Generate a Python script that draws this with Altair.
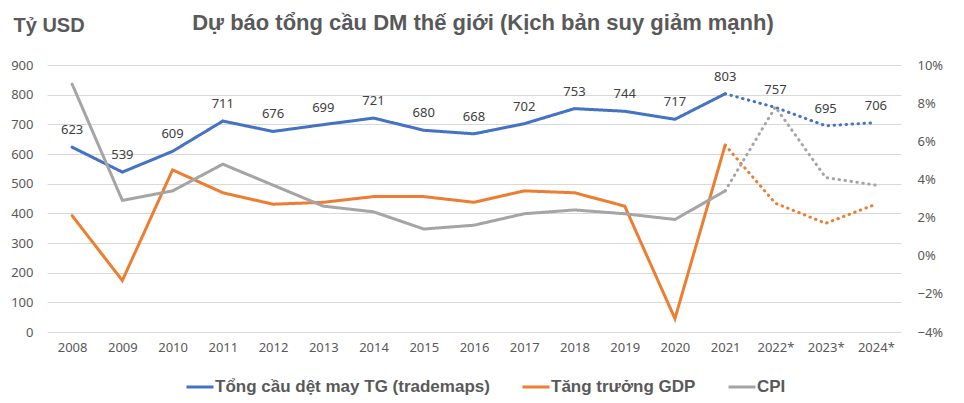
import altair as alt
import pandas as pd

years = ["2008", "2009", "2010", "2011", "2012", "2013", "2014", "2015", "2016",
         "2017", "2018", "2019", "2020", "2021", "2022*", "2023*", "2024*"]
demand = [623, 539, 609, 711, 676, 699, 721, 680, 668, 702, 753, 744, 717, 803, 757, 695, 706]
gdp_pct = [2.1, -1.3, 4.5, 3.3, 2.7, 2.8, 3.1, 3.1, 2.8, 3.4, 3.3, 2.6, -3.3, 5.8, 2.75, 1.7, 2.7]
cpi_pct = [9.0, 2.9, 3.4, 4.8, 3.7, 2.6, 2.3, 1.4, 1.6, 2.2, 2.4, 2.2, 1.9, 3.4, 7.8, 4.1, 3.7]

S_DEM = "Tổng cầu dệt may TG (trademaps)"
S_GDP = "Tăng trưởng GDP"
S_CPI = "CPI"
series_names = [S_DEM, S_GDP, S_CPI]
series_colors = ["#4472C4", "#ED7D31", "#A5A5A5"]
split = years.index("2021")


def long_rows(name, values):
    rows = []
    for i, (y, v) in enumerate(zip(years, values)):
        if i <= split:
            rows.append({"year": y, "value": v, "series": name, "part": "actual"})
        if i >= split:
            rows.append({"year": y, "value": v, "series": name, "part": "forecast"})
    return rows


left_df = pd.DataFrame(long_rows(S_DEM, demand))
right_df = pd.DataFrame(long_rows(S_GDP, [v / 100 for v in gdp_pct]) +
                        long_rows(S_CPI, [v / 100 for v in cpi_pct]))
label_df = pd.DataFrame({"year": years, "value": demand})

TXT = "#595959"
LBL_FONT = "Noto Sans"

x_enc = alt.X("year:N", sort=years, title=None,
              axis=alt.Axis(labelAngle=0, labelFont=LBL_FONT, labelFontSize=13,
                            labelColor=TXT, labelPadding=9, domain=False, ticks=False,
                            grid=False, labelOverlap=False))

color_enc = alt.Color("series:N",
                      scale=alt.Scale(domain=series_names, range=series_colors),
                      legend=alt.Legend(title=None, orient="none", direction="horizontal",
                                        legendX=138, legendY=307,
                                        symbolType="stroke", symbolSize=729,
                                        symbolStrokeWidth=3, labelFont="Liberation Sans",
                                        labelFontWeight="bold", labelFontSize=17,
                                        labelColor=TXT, labelOffset=0, columnPadding=26,
                                        labelLimit=0, padding=0))

dash_enc = alt.StrokeDash("part:N",
                          scale=alt.Scale(domain=["actual", "forecast"],
                                          range=[[1, 0], [0.5, 5.5]]),
                          legend=None)

y_left = alt.Y("value:Q", title="Tỷ USD",
               scale=alt.Scale(domain=[0, 900], nice=False),
               axis=alt.Axis(values=list(range(0, 901, 100)), grid=True,
                             gridColor="#D9D9D9", gridWidth=1, domain=False, ticks=False,
                             labelFont=LBL_FONT, labelFontSize=13, labelColor=TXT,
                             labelPadding=14, labelOverlap=False,
                             titleAngle=0, titleX=-34, titleY=-34, titleAlign="left",
                             titleBaseline="alphabetic", titleFont="Liberation Sans",
                             titleFontWeight="bold", titleFontSize=20, titleColor=TXT))

left_lines = alt.Chart(left_df).mark_line(strokeWidth=3, strokeCap="round").encode(
    x=x_enc, y=y_left, color=color_enc, strokeDash=dash_enc,
    detail="part:N",
)

left_labels = alt.Chart(label_df).mark_text(
    dy=-17, fontSize=13, font=LBL_FONT, color="#404040", baseline="middle"
).encode(x=x_enc, y=y_left, text="value:Q")

left_layer = alt.layer(left_lines, left_labels)

y_right = alt.Y("value:Q", title=None,
                scale=alt.Scale(domain=[-0.04, 0.10], nice=False),
                axis=alt.Axis(orient="right", values=[-0.04, -0.02, 0, 0.02, 0.04, 0.06, 0.08, 0.10],
                              format=".0%", grid=False, domain=False, ticks=False,
                              labelFont=LBL_FONT, labelFontSize=13, labelColor=TXT,
                              labelPadding=16, labelOverlap=False))

right_layer = alt.Chart(right_df).mark_line(strokeWidth=3, strokeCap="round").encode(
    x=x_enc, y=y_right, color=color_enc, strokeDash=dash_enc,
    detail="part:N",
)

chart = alt.layer(left_layer, right_layer).resolve_scale(
    y="independent"
).properties(
    width=854, height=267,
    autosize=alt.AutoSizeParams(type="none"),
    padding={"left": 39, "top": 57, "right": 55, "bottom": 63},
    title=alt.Title("Dự báo tổng cầu DM thế giới (Kịch bản suy giảm mạnh)",
                    font="Liberation Sans", fontSize=22, fontWeight="bold",
                    color=TXT, anchor="middle", frame="group", dx=9, dy=37,
                    baseline="alphabetic", offset=0),
).configure_view(stroke=None)

chart.save("out.html", embed_options={"renderer": "svg", "actions": False})
